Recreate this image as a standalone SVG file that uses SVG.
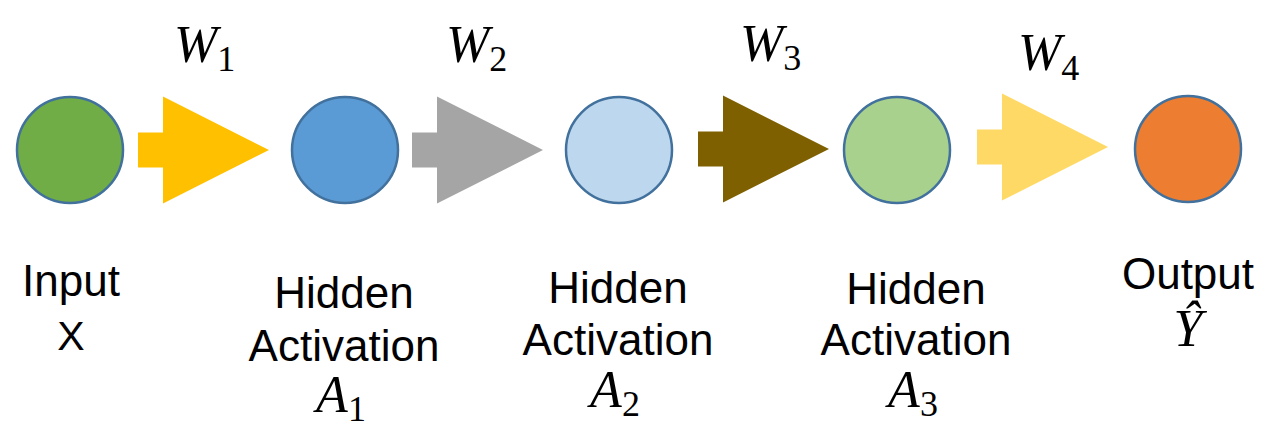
<svg xmlns="http://www.w3.org/2000/svg" width="1266" height="432" viewBox="0 0 1266 432">
  <style>
    .node { stroke: #41719C; stroke-width: 2.5; }
    .lbl { font-family: "Liberation Sans", Arial, sans-serif; font-size: 44px; fill: #000; text-anchor: middle; }
    .math { font-family: "Liberation Serif", "Times New Roman", serif; font-style: italic; font-size: 52px; fill: #000; }
    .sub { font-style: normal; font-size: 36px; }
  </style>
  <defs>
    <!-- block arrow: stem then triangular head, origin at stem's left edge, vertical centre -->
    <path id="blockArrow" d="M0,-17.5 H25 V-53.5 L131,0 L25,53.5 V17.5 H0 Z"/>
  </defs>

  <rect width="1266" height="432" fill="#FFFFFF"/>

  <!-- weight arrows between layers -->
  <g id="connectors">
    <use href="#blockArrow" transform="translate(138,150)" fill="#FFC000"/>
    <use href="#blockArrow" transform="translate(412,150)" fill="#A5A5A5"/>
    <use href="#blockArrow" transform="translate(698,149)" fill="#7F6000"/>
    <use href="#blockArrow" transform="translate(977,147)" fill="#FFD966"/>
  </g>

  <!-- weight labels -->
  <g id="weights">
    <text class="math" x="174" y="62">W<tspan class="sub" dy="9">1</tspan></text>
    <text class="math" x="446" y="62">W<tspan class="sub" dy="9">2</tspan></text>
    <text class="math" x="740" y="61">W<tspan class="sub" dy="9">3</tspan></text>
    <text class="math" x="1018" y="70">W<tspan class="sub" dy="10">4</tspan></text>
  </g>

  <g id="input">
    <circle class="node" cx="70" cy="150" r="53" fill="#70AD47"/>
    <text class="lbl" x="71" y="296">Input</text>
    <text class="lbl" x="71" y="350" style="font-size:41px">X</text>
  </g>

  <g id="hidden1">
    <circle class="node" cx="345" cy="150" r="53" fill="#5B9BD5"/>
    <text class="lbl" x="344" y="308">Hidden</text>
    <text class="lbl" x="344" y="361">Activation</text>
    <text class="math" x="341" y="412" text-anchor="middle">A<tspan class="sub" dy="9">1</tspan></text>
  </g>

  <g id="hidden2">
    <circle class="node" cx="619" cy="150" r="53" fill="#BDD7EE"/>
    <text class="lbl" x="618" y="303">Hidden</text>
    <text class="lbl" x="618" y="355">Activation</text>
    <text class="math" x="615" y="407" text-anchor="middle">A<tspan class="sub" dy="9">2</tspan></text>
  </g>

  <g id="hidden3">
    <circle class="node" cx="897" cy="150" r="53" fill="#A9D18E"/>
    <text class="lbl" x="916" y="304">Hidden</text>
    <text class="lbl" x="916" y="355">Activation</text>
    <text class="math" x="913" y="407" text-anchor="middle">A<tspan class="sub" dy="9">3</tspan></text>
  </g>

  <g id="output">
    <circle class="node" cx="1188" cy="149" r="53" fill="#ED7D31"/>
    <text class="lbl" x="1188" y="289">Output</text>
    <text class="math" x="1188" y="346" text-anchor="middle">Ŷ</text>
  </g>
</svg>
